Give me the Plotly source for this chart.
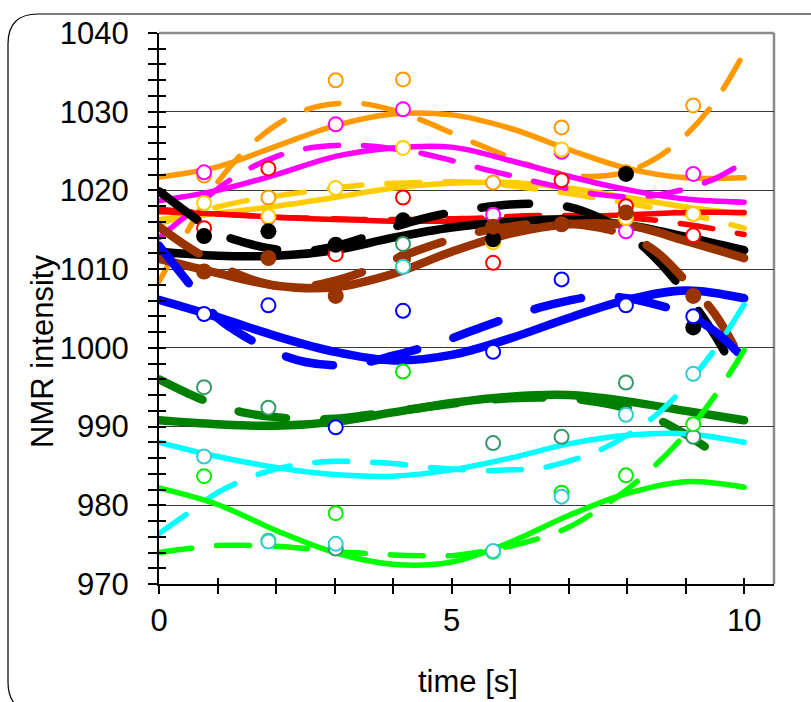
import plotly.graph_objects as go

# ---------------- data ----------------
MX = [0.77, 1.87, 3.02, 4.17, 5.71, 6.88, 7.98, 9.13]          # measurement times
XF = [0, 1, 2, 3, 4, 5, 6, 7, 8, 9, 10]                          # solid fit sample times
XD = [0, 0.5, 1, 1.5, 2, 2.5, 3, 3.5, 4, 4.5, 5, 5.5, 6, 6.5, 7, 7.5, 8, 8.5, 9, 9.5, 10]
XD_BLACK = XD[:-1] + [9.9]
XD_DKGREEN = XD[:-1] + [9.7]

orange_pts = [1021.9, 1019.1, 1034.0, 1034.1, 1021.0, 1028.0, 1022.3, 1030.8]
magenta_pts = [1022.3, 1016.6, 1028.4, 1030.3, 1016.9, 1024.9, 1014.8, 1022.1]
yellow_pts = [1018.4, 1016.7, 1020.3, 1025.4, 1013.4, 1025.2, 1016.5, 1017.0]
red_pts = [1015.2, 1022.8, 1011.9, 1019.1, 1010.8, 1021.3, 1018.0, 1014.3]
black_pts = [1014.2, 1014.8, 1013.1, 1016.2, 1013.8, 1015.8, 1022.1, 1002.6]
brown_pts = [1009.7, 1011.4, 1006.6, 1011.3, 1015.4, 1015.7, 1017.2, 1006.6]
blue_pts = [1004.3, 1005.4, 989.9, 1004.7, 999.5, 1008.7, 1005.4, 1004.0]
dkgreen_pts = [995.0, 992.4, 974.5, 1013.2, 987.9, 988.7, 995.6, 988.7]
cyan_pts = [986.2, 975.4, 975.1, 1010.3, 974.2, 981.1, 991.5, 996.7]
green_pts = [983.7, 975.5, 979.0, 997.0, 974.1, 981.6, 983.8, 990.3]

orange_fit = [1021.7, 1023.0, 1025.6, 1028.2, 1029.7, 1029.6, 1027.9, 1025.2, 1022.8, 1021.6, 1021.6]
magenta_fit = [1018.7, 1020.0, 1022.0, 1024.3, 1025.4, 1025.5, 1023.8, 1021.8, 1020.1, 1018.9, 1018.5]
yellow_fit = [1016.3, 1017.1, 1018.0, 1019.1, 1020.3, 1020.9, 1021.0, 1020.3, 1019.1, 1017.9, 1017.0]
red_fit = [1017.3, 1017.0, 1016.6, 1016.3, 1016.1, 1016.1, 1016.3, 1016.6, 1016.9, 1017.2, 1017.2]
black_fit = [1012.2, 1011.7, 1011.7, 1012.4, 1014.0, 1015.3, 1016.0, 1016.3, 1015.6, 1014.1, 1012.4]
brown_fit = [1011.3, 1009.5, 1007.9, 1007.7, 1009.4, 1012.2, 1014.5, 1015.7, 1015.6, 1013.6, 1011.4]
blue_fit = [1006.1, 1003.9, 1001.5, 999.5, 998.4, 999.1, 1001.2, 1003.8, 1006.1, 1007.3, 1006.3]
dkgreen_fit = [990.8, 990.3, 990.1, 990.6, 991.8, 993.0, 993.8, 994.0, 993.2, 992.0, 990.8]
cyan_fit = [988.0, 986.2, 984.8, 983.9, 983.7, 984.5, 986.0, 987.8, 988.9, 989.1, 988.0]
green_fit = [982.2, 980.1, 976.8, 974.0, 972.5, 972.8, 975.3, 978.7, 981.5, 983.0, 982.3]

orange_dash = [1008.4, 1015.0, 1021.0, 1025.3, 1028.3, 1030.2, 1031.0, 1031.0, 1030.2, 1028.9, 1027.3,
               1025.7, 1024.2, 1022.8, 1022.0, 1021.8, 1022.4, 1024.1, 1027.0, 1031.3, 1037.5]
magenta_dash = [1014.0, 1017.0, 1020.2, 1022.6, 1024.3, 1025.3, 1025.7, 1025.7, 1025.3, 1024.7, 1023.8,
                1022.8, 1021.9, 1021.0, 1020.2, 1019.5, 1019.2, 1019.4, 1020.2, 1021.5, 1023.6]
yellow_dash = [1015.8, 1016.8, 1017.9, 1018.7, 1019.3, 1019.8, 1020.3, 1020.7, 1020.9, 1021.0, 1021.1,
               1021.0, 1020.6, 1020.1, 1019.6, 1019.0, 1018.4, 1017.7, 1017.0, 1016.2, 1015.2]
red_dash = [1017.6, 1017.3, 1017.0, 1016.8, 1016.6, 1016.5, 1016.4, 1016.3, 1016.3, 1016.3, 1016.4,
            1016.5, 1016.7, 1016.8, 1016.8, 1016.7, 1016.5, 1016.2, 1015.7, 1015.1, 1014.4]
black_dash = [1019.9, 1017.1, 1014.6, 1013.3, 1012.5, 1012.3, 1012.9, 1014.0, 1015.3, 1016.4, 1017.2,
              1017.8, 1018.2, 1018.3, 1017.9, 1016.6, 1014.5, 1011.3, 1006.9, 1001.6, 996.2]
brown_dash = [1015.4, 1012.8, 1010.6, 1008.9, 1007.9, 1007.8, 1008.5, 1009.7, 1011.2, 1012.6, 1013.8,
              1014.8, 1015.4, 1015.8, 1015.8, 1015.3, 1014.3, 1012.2, 1008.5, 1004.3, 997.8]
blue_dash = [1013.0, 1008.3, 1003.8, 1001.3, 999.4, 998.2, 997.8, 998.1, 999.0, 1000.0, 1001.2,
             1002.6, 1003.9, 1005.1, 1006.0, 1006.6, 1006.3, 1005.5, 1004.3, 1002.1, 998.6]
dkgreen_dash = [996.0, 994.2, 992.7, 991.7, 991.2, 990.9, 991.0, 991.4, 991.9, 992.4, 992.9,
                993.3, 993.6, 993.7, 993.6, 993.1, 992.3, 991.0, 989.0, 986.6, 985.5]
cyan_dash = [976.4, 979.0, 981.6, 983.4, 984.6, 985.3, 985.6, 985.5, 985.3, 984.9, 984.6,
             984.4, 984.5, 984.7, 985.6, 986.9, 988.9, 991.5, 995.2, 999.8, 1005.5]
green_dash = [974.0, 974.5, 974.9, 974.9, 974.8, 974.5, 974.1, 973.9, 973.7, 973.6, 973.6,
              974.1, 974.8, 975.8, 977.2, 979.4, 982.0, 985.2, 989.1, 993.9, 999.7]

X_TICKS = [0, 5, 10]
Y_TICKS = [970, 980, 990, 1000, 1010, 1020, 1030, 1040]

# ---------------- styling ----------------
THIN, THICK = 5.5, 8.5
DASH_THIN, DASH_THICK = "33px,25px", "48px,38px"

# (line color, width, fit, dashed x, dashed y)
lines = [
    ("#FFCC00", THIN, yellow_fit, XD, yellow_dash),
    ("#FF9900", THIN, orange_fit, XD, orange_dash),
    ("#FF00FF", THIN, magenta_fit, XD, magenta_dash),
    ("#FF0000", THIN, red_fit, XD, red_dash),
    ("#000000", THICK, black_fit, XD_BLACK, black_dash),
    ("#993300", THICK, brown_fit, XD, brown_dash),
    ("#0000FF", THICK, blue_fit, XD, blue_dash),
    ("#008000", THICK, dkgreen_fit, XD_DKGREEN, dkgreen_dash),
    ("#00FFFF", THIN, cyan_fit, XD, cyan_dash),
    ("#00FF00", THIN, green_fit, XD, green_dash),
]

# (values, outline color, filled?)
markers = [
    (orange_pts, "#FF9900", False),
    (red_pts, "#FF0000", False),
    (magenta_pts, "#FF00FF", False),
    (yellow_pts, "#FFCC00", False),
    (black_pts, "#000000", True),
    (brown_pts, "#993300", True),
    (blue_pts, "#0000FF", False),
    (dkgreen_pts, "#339966", False),
    (green_pts, "#00EE00", False),
    (cyan_pts, "#33CCCC", False),
]

fig = go.Figure()
for color, w, fit, xd, dsh in lines:
    fig.add_trace(go.Scatter(x=XF, y=fit, mode="lines",
                             line=dict(color=color, width=w, shape="spline", smoothing=1.0),
                             hoverinfo="skip", showlegend=False))
    fig.add_trace(go.Scatter(x=xd, y=dsh, mode="lines",
                             line=dict(color=color, width=w, shape="spline", smoothing=1.0,
                                       dash=DASH_THICK if w == THICK else DASH_THIN),
                             hoverinfo="skip", showlegend=False))

for vals, color, filled in markers:
    fig.add_trace(go.Scatter(x=MX, y=vals, mode="markers",
                             marker=dict(symbol="circle", size=16 if filled else 14,
                                         color=color if filled else "white",
                                         line=dict(color=color, width=0 if filled else 2)),
                             hoverinfo="skip", showlegend=False))

# dummy trace so the overlay axes (inner halves of the ticks) get drawn
fig.add_trace(go.Scatter(x=[None], y=[None], xaxis="x2", yaxis="y2", mode="markers",
                         showlegend=False, hoverinfo="skip"))

FONT = "Liberation Sans, Arial, sans-serif"
XR = [0, 10.51]
YR = [970, 1040]

fig.update_layout(
    width=811, height=702,
    margin=dict(l=159, r=37, t=33, b=118, pad=0),
    paper_bgcolor="white", plot_bgcolor="white",
    font=dict(family=FONT, size=31, color="black"),
    xaxis=dict(range=XR, tickmode="array", tickvals=X_TICKS, ticktext=[str(v) for v in X_TICKS],
               ticks="outside", ticklen=8, tickwidth=1.5, tickcolor="black",
               minor=dict(dtick=1, tick0=0, ticks="outside", ticklen=8, tickwidth=1.5, tickcolor="black"),
               showline=True, linecolor="black", linewidth=2, showgrid=False, zeroline=False,
               ticklabelstandoff=0, tickfont=dict(size=31)),
    yaxis=dict(range=YR, tickmode="array", tickvals=Y_TICKS, ticktext=[str(v) for v in Y_TICKS],
               ticks="outside", ticklen=9, tickwidth=1.5, tickcolor="black",
               minor=dict(dtick=2, tick0=970, ticks="outside", ticklen=9, tickwidth=1.5, tickcolor="black"),
               showline=True, linecolor="black", linewidth=2,
               showgrid=True, gridcolor="#3a3a3a", gridwidth=1, zeroline=False,
               ticklabelstandoff=13, tickfont=dict(size=31)),
    xaxis2=dict(range=XR, overlaying="x", anchor="y2", side="bottom", dtick=1, tick0=0,
                ticks="inside", ticklen=6, tickwidth=1.5, tickcolor="black",
                showticklabels=False, showgrid=False, zeroline=False, showline=False),
    yaxis2=dict(range=YR, overlaying="y", anchor="x2", side="left", dtick=2, tick0=970,
                ticks="inside", ticklen=7, tickwidth=1.5, tickcolor="black",
                showticklabels=False, showgrid=False, zeroline=False, showline=False),
)

# plot frame (gray top/right border) and rounded outer chart border
rx, ry = 30 / 615, 30 / 551
x0, x1 = (8 - 159) / 615, 1.2
yt, yb = (584 - 14) / 551, (584 - 712) / 551
fig.update_layout(shapes=[
    dict(type="line", xref="paper", yref="paper", x0=0, x1=1, y0=1, y1=1,
         line=dict(color="#8a8a8a", width=2.5), layer="below"),
    dict(type="line", xref="paper", yref="paper", x0=1, x1=1, y0=0, y1=1,
         line=dict(color="#8a8a8a", width=2.5), layer="below"),
    dict(type="path", xref="paper", yref="paper",
         path=(f"M {x1},{yt} L {x0 + rx},{yt} Q {x0},{yt} {x0},{yt - ry} "
               f"L {x0},{yb + ry} Q {x0},{yb} {x0 + rx},{yb} L {x1},{yb}"),
         line=dict(color="black", width=1.2), fillcolor="rgba(0,0,0,0)"),
])

fig.add_annotation(text="NMR intensity", xref="paper", yref="paper",
                   x=(42 - 159) / 615, y=(584 - 352) / 551, textangle=-90,
                   showarrow=False, font=dict(size=31, family=FONT, color="black"),
                   xanchor="center", yanchor="middle")
fig.add_annotation(text="time [s]", xref="paper", yref="paper",
                   x=(468 - 159) / 615, y=(584 - 681) / 551,
                   showarrow=False, font=dict(size=31, family=FONT, color="black"),
                   xanchor="center", yanchor="middle")

fig.write_html("out.html",
               post_script="document.querySelectorAll('path.js-line').forEach(function(p){p.style.strokeLinecap='round';});")
